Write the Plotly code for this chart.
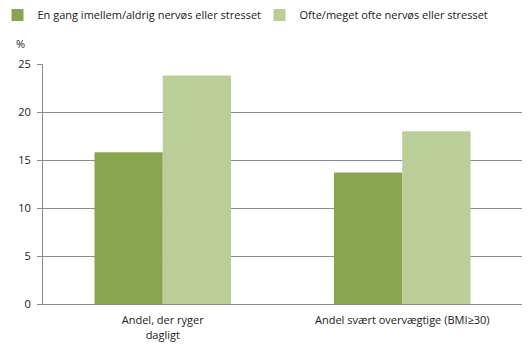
import plotly.graph_objects as go

categories = ["Andel, der ryger<br>dagligt", "Andel svært overvægtige (BMI≥30)"]
series_names = ["En gang imellem/aldrig nervøs eller stresset", "Ofte/meget ofte nervøs eller stresset"]
series1 = [15.8, 13.7]
series2 = [23.8, 18.0]
y_ticks = [0, 5, 10, 15, 20, 25]

FONT = "Open Sans, Liberation Sans, sans-serif"

fig = go.Figure()
fig.add_trace(go.Bar(x=categories, y=series1, name=series_names[0], marker_color="#8aa54f",
                     marker_line_width=0, legend="legend"))
fig.add_trace(go.Bar(x=categories, y=series2, name=series_names[1], marker_color="#bacf98",
                     marker_line_width=0, legend="legend2"))

leg_common = dict(orientation="h", xanchor="left", y=1.204, yanchor="middle",
                  font=dict(size=11), itemwidth=30, bgcolor="rgba(0,0,0,0)")

fig.update_layout(
    width=532, height=360,
    margin=dict(l=43, r=10, t=64, b=56, autoexpand=False),
    paper_bgcolor="white", plot_bgcolor="white",
    barmode="group", bargap=0.43, bargroupgap=0,
    font=dict(family=FONT, size=11, color="#1a1a1a"),
    showlegend=True,
    legend=dict(x=-0.095, **leg_common),
    legend2=dict(x=0.452, **leg_common),
    annotations=[dict(text="%", xref="paper", yref="paper", x=(20 - 43) / 479, y=(304 - 43) / 240,
                      xanchor="center", yanchor="middle", showarrow=False, font=dict(size=11))],
)
fig.update_yaxes(range=[0, 25], tickvals=y_ticks, showgrid=True, gridcolor="#8c8c8c", gridwidth=1,
                 showline=True, linecolor="#8c8c8c", linewidth=1, ticks="outside", ticklen=5,
                 tickcolor="#8c8c8c", zeroline=False, tickfont=dict(size=11), automargin=False,
                 ticklabelstandoff=4)
fig.update_xaxes(showline=True, linecolor="#8c8c8c", linewidth=1, ticks="outside", ticklen=6,
                 tickcolor="rgba(0,0,0,0)", tickfont=dict(size=11), automargin=False)

fig.write_html("out.html", config={"displayModeBar": False},
               post_script="document.body.style.margin='0';")
